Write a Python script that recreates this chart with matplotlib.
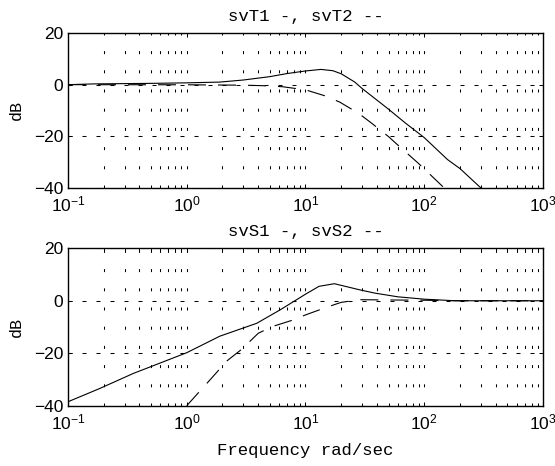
import matplotlib
matplotlib.use("Agg")
import matplotlib.pyplot as plt
from matplotlib.ticker import LogLocator, NullFormatter

# Singular value plots (dB) read at selected frequencies (rad/sec)
w_svT1 = [0.1, 0.17, 0.5, 1.0, 1.9, 3.0, 5.0, 7.0, 10, 13.5, 17, 20, 26, 30, 40, 50, 70, 100, 157, 200, 300]
db_svT1 = [0.0, 0.3, 0.5, 0.7, 1.0, 1.8, 3.1, 4.3, 5.3, 5.9, 5.4, 4.2, 1.0, -1.5, -6.0, -9.5, -15.0, -20.5, -29.0, -32.5, -40.0]

w_svT2 = [0.1, 1.0, 3.0, 4.4, 6.4, 10, 15, 19.5, 28, 36, 50, 62, 89, 145, 150]
db_svT2 = [0.0, -0.05, -0.2, -0.4, -0.8, -2.0, -4.5, -6.8, -11.1, -14.9, -20.1, -24.0, -30.4, -39.7, -40.3]

w_svS1 = [0.1, 0.186, 0.355, 1.0, 1.9, 3.88, 6.1, 10, 13, 17.5, 29, 38.5, 60, 100, 182, 1000]
db_svS1 = [-38.5, -33.4, -27.7, -19.8, -13.5, -8.6, -3.5, 2.5, 5.5, 6.5, 4.1, 2.9, 1.5, 0.6, 0.0, 0.0]

w_svS2 = [1.0, 1.67, 2.17, 2.9, 4.0, 5.2, 7.9, 10, 15, 20, 29, 50, 100, 200, 1000]
db_svS2 = [-40.0, -28.8, -23.0, -18.5, -12.4, -9.9, -7.3, -5.4, -2.5, -0.6, 0.4, 0.3, 0.2, 0.0, 0.0]

titles = ["svT1 -, svT2 --", "svS1 -, svS2 --"]
y_ticks = [-40, -20, 0, 20]
x_label = "Frequency rad/sec"
y_label = "dB"

PX = 72.0 / 100.0  # points per pixel at 100 dpi

plt.rcParams["lines.scale_dashes"] = False
plt.rcParams["font.family"] = ["Liberation Sans", "DejaVu Sans"]
plt.rcParams["mathtext.default"] = "regular"

MONO = ["Liberation Mono", "DejaVu Sans Mono"]

fig = plt.figure(figsize=(5.55, 4.66), dpi=100)
ax1 = fig.add_axes([0.1225, 0.5966, 0.8559, 0.3326])
ax2 = fig.add_axes([0.1225, 0.1294, 0.8559, 0.3378])

solid = dict(color="k", linewidth=0.8, linestyle="-")
dashed = dict(color="k", linewidth=0.8, linestyle=(0, (18 * PX, 12 * PX)))


def style(ax, title):
    ax.set_xscale("log")
    ax.set_xlim(0.1, 1000)
    ax.set_ylim(-40, 20)
    ax.set_yticks(y_ticks)
    ax.xaxis.set_major_locator(LogLocator(base=10, numticks=10))
    ax.xaxis.set_minor_locator(LogLocator(base=10, subs=range(2, 10), numticks=40))
    ax.xaxis.set_minor_formatter(NullFormatter())
    ax.tick_params(which="both", direction="in", top=True, right=True,
                   width=0.7, labelsize=12.5, color="k")
    ax.tick_params(which="major", length=4 * PX)
    ax.tick_params(which="minor", length=2.5 * PX)
    ax.tick_params(axis="x", which="major", pad=5)
    ax.tick_params(axis="y", which="major", pad=3.4)
    ax.grid(True, which="both", axis="x", color="k", linewidth=0.75,
            linestyle=(0, (3 * PX, 16.2 * PX)))
    ax.grid(True, which="major", axis="y", color="k", linewidth=0.75,
            linestyle=(0, (4 * PX, 10 * PX)))
    for s in ax.spines.values():
        s.set_linewidth(1.0)
    ax.set_title(title, family=MONO, fontsize=12.5, pad=8.6)
    ax.set_ylabel(y_label, family=MONO, fontsize=12)
    ax.yaxis.set_label_coords(-0.092, 0.5)


style(ax1, titles[0])
ax1.plot(w_svT1, db_svT1, **solid, zorder=3)
ax1.plot(w_svT2, db_svT2, **dashed, zorder=3)

style(ax2, titles[1])
ax2.plot(w_svS1, db_svS1, **solid, zorder=3)
ax2.plot(w_svS2, db_svS2, **dashed, zorder=3)
ax2.set_xlabel(x_label, family=MONO, fontsize=12.5)
ax2.xaxis.set_label_coords(0.5, -0.237)

fig.savefig("out.png", dpi=100)
